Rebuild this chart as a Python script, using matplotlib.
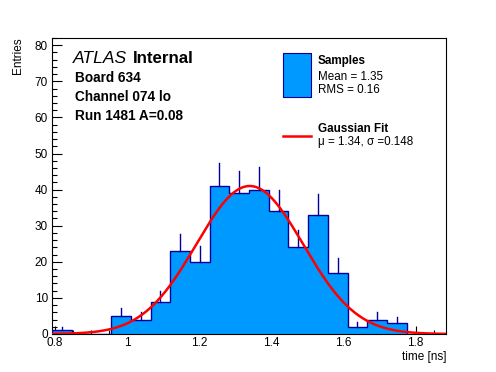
import numpy as np
import matplotlib
matplotlib.use("Agg")
import matplotlib.pyplot as plt
from matplotlib.ticker import MultipleLocator

# ---- data ----
x_min, x_max = 0.792, 1.884
n_bins = 20
counts = [1, 0, 0, 5, 4, 9, 23, 20, 41, 39, 40, 34, 24, 33, 17, 2, 4, 3, 0, 0]
fit_mu, fit_sigma, fit_amp = 1.34, 0.148, 41.0
y_max = 82
x_ticks = [0.8, 1.0, 1.2, 1.4, 1.6, 1.8]
x_tick_labels = ["0.8", "1", "1.2", "1.4", "1.6", "1.8"]
y_ticks = [0, 10, 20, 30, 40, 50, 60, 70, 80]

FONT = "Liberation Sans"
plt.rcParams['font.family'] = [FONT, 'DejaVu Sans']

W, H = 496, 372
fig = plt.figure(figsize=(W / 100, H / 100), dpi=100)
L, R, T, B = 52, 446, 38, 334
ax = fig.add_axes([L / W, 1 - B / H, (R - L) / W, (B - T) / H])

edges = np.linspace(x_min, x_max, n_bins + 1)
centers = 0.5 * (edges[:-1] + edges[1:])
cnt = np.array(counts, dtype=float)

fill_col = "#0099ff"
edge_col = "#000099"

ax.stairs(cnt, edges, fill=True, color=fill_col, zorder=2)
ax.stairs(cnt, edges, fill=False, color=edge_col, linewidth=1.0, zorder=3)
for c, n in zip(centers, cnt):
    if n > 0:
        ax.plot([c, c], [n, n + np.sqrt(n)], color=edge_col, linewidth=1.0, zorder=3)

xs = np.linspace(x_min, x_max, 400)
ys = fit_amp * np.exp(-0.5 * ((xs - fit_mu) / fit_sigma) ** 2)
ax.plot(xs, ys, color="#ff0000", linewidth=1.8, zorder=4)

ax.set_xlim(x_min, x_max)
ax.set_ylim(0, y_max)
ax.set_xticks(x_ticks)
ax.set_xticklabels(x_tick_labels)
ax.set_yticks(y_ticks)
ax.xaxis.set_minor_locator(MultipleLocator(0.05))
ax.yaxis.set_minor_locator(MultipleLocator(2))
ax.tick_params(axis="both", which="both", direction="in", labelsize=8.5,
               top=False, right=False, width=0.8, colors="black")
ax.tick_params(axis="x", which="major", length=6, pad=2)
ax.tick_params(axis="x", which="minor", length=3)
ax.tick_params(axis="y", which="major", length=7, pad=3)
ax.tick_params(axis="y", which="minor", length=3.5)
for s in ax.spines.values():
    s.set_linewidth(0.8)

def px(x, y):
    return (x / W, 1 - y / H)

fig.text(*px(446, 357), "time [ns]", ha="right", va="center", fontsize=8.5)
fig.text(*px(18, 37), "Entries", ha="center", va="top", rotation=90, fontsize=8.5)

fig.text(*px(73, 63), "ATLAS", ha="left", va="baseline", fontsize=12.6, style="italic")
fig.text(*px(133, 63), "Internal", ha="left", va="baseline", fontsize=12.2, weight="bold")
fig.text(*px(75, 82), "Board 634", ha="left", va="baseline", fontsize=9.8, weight="bold")
fig.text(*px(75, 101), "Channel 074 lo", ha="left", va="baseline", fontsize=9.8, weight="bold")
fig.text(*px(75, 120), "Run 1481 A=0.08", ha="left", va="baseline", fontsize=9.8, weight="bold")

# legend
from matplotlib.patches import Rectangle
from matplotlib.lines import Line2D
fig.patches.append(Rectangle(px(283, 97), 28 / W, 44 / H, transform=fig.transFigure,
                             facecolor=fill_col, edgecolor=edge_col, linewidth=0.8))
fig.lines.append(Line2D([283 / W, 311 / W], [1 - 136 / H, 1 - 136 / H],
                        transform=fig.transFigure, color="#ff0000", linewidth=1.8))
fig.text(*px(318, 61), "Samples", ha="left", va="center", fontsize=8.4, weight="bold")
fig.text(*px(318, 77), "Mean = 1.35", ha="left", va="center", fontsize=8.4)
fig.text(*px(318, 90), "RMS = 0.16", ha="left", va="center", fontsize=8.4)
fig.text(*px(318, 129), "Gaussian Fit", ha="left", va="center", fontsize=8.4, weight="bold")
fig.text(*px(318, 142), "\u03bc = 1.34, \u03c3 =0.148", ha="left", va="center", fontsize=8.4)

fig.savefig("out.png", dpi=100)
